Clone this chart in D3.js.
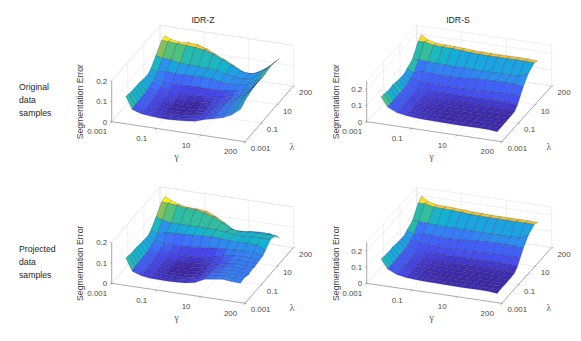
<!DOCTYPE html>
<meta charset="utf-8">
<head>
<style>
html, body { margin: 0; padding: 0; background: #fff; }
svg { display: block; font-family: "Liberation Sans", Arial, sans-serif; }
.tick-label { font-size: 7.9px; fill: #4a4a4a; }
.axis-title { font-size: 8.7px; fill: #404040; }
.panel-title { font-size: 8.7px; fill: #262626; text-anchor: middle; }
.row-label { font-size: 8.7px; fill: #262626; }
.greek { font-family: "Liberation Serif", serif; font-size: 9.5px; fill: #555; text-anchor: middle; }
.grid { stroke: #e4e4e4; stroke-width: 0.6; fill: none; }
.axis { stroke: #808080; stroke-width: 0.6; fill: none; }
.cell { stroke: #12123c; stroke-opacity: 0.42; stroke-width: 0.5; stroke-linejoin: round; }
</style>
<script src="https://d3js.org/d3.v7.min.js"></script>
<title>Segmentation Error</title>
</head>
<body>
<script>

// tick labels, equally spaced on both floor axes
var gammaTicks = ["0.001", "0.1", "10", "200"];
var lambdaTicks = ["0.001", "0.1", "10", "200"];
var zTicks = [0, 0.1, 0.2];

// grid nodes in tick steps (0 = first tick, 3 = last tick)
var gammaGrid = [0.21, 0.353, 0.556, 0.759, 0.962, 1.165, 1.368, 1.571, 1.774, 1.977, 2.18, 2.383, 2.586, 2.79];
var lambdaGrid = [0.30, 0.474, 0.648, 0.82, 0.993, 1.167, 1.341, 1.512, 1.686, 1.86, 2.172, 2.52, 2.73];

// one row per lambda, low to high; one column per gamma
var idrzOriginal = [
  [.104,.044,.030,.025,.022,.022,.024,.028,.033,.048,.058,.070,.090,.125],
  [.100,.050,.029,.024,.021,.020,.021,.024,.032,.048,.060,.074,.095,.135],
  [.097,.051,.030,.023,.018,.017,.018,.021,.030,.048,.062,.078,.100,.145],
  [.097,.051,.030,.022,.016,.015,.015,.020,.030,.048,.064,.080,.105,.150],
  [.096,.052,.033,.023,.017,.015,.015,.020,.030,.046,.064,.082,.108,.155],
  [.094,.052,.037,.026,.019,.016,.016,.021,.032,.046,.062,.080,.108,.160],
  [.091,.057,.044,.032,.024,.020,.020,.024,.034,.046,.060,.078,.106,.160],
  [.089,.065,.052,.040,.032,.030,.030,.032,.040,.050,.060,.076,.104,.160],
  [.089,.067,.056,.054,.055,.058,.060,.058,.058,.062,.068,.080,.105,.158],
  [.100,.084,.096,.090,.090,.092,.094,.092,.084,.078,.080,.092,.118,.160],
  [.136,.124,.123,.113,.112,.110,.108,.104,.094,.086,.082,.092,.122,.165],
  [.177,.175,.172,.170,.166,.161,.148,.128,.106,.084,.076,.088,.118,.160],
  [.180,.167,.160,.164,.160,.146,.124,.105,.083,.060,.058,.080,.112,.152]
];

var idrsOriginal = [
  [.127,.070,.045,.035,.030,.027,.026,.025,.024,.024,.024,.024,.024,.018],
  [.125,.070,.046,.032,.027,.025,.023,.022,.022,.022,.022,.022,.022,.020],
  [.120,.070,.044,.030,.026,.024,.022,.022,.022,.022,.022,.022,.022,.020],
  [.118,.070,.042,.030,.026,.024,.023,.022,.022,.022,.022,.022,.022,.020],
  [.123,.072,.042,.032,.028,.025,.024,.023,.023,.023,.023,.023,.023,.022],
  [.118,.072,.045,.034,.030,.028,.026,.025,.025,.025,.025,.025,.024,.022],
  [.114,.074,.050,.040,.036,.034,.032,.032,.032,.032,.032,.032,.030,.024],
  [.112,.074,.055,.050,.050,.050,.050,.050,.050,.050,.052,.052,.050,.045],
  [.112,.085,.080,.075,.072,.070,.070,.072,.074,.078,.080,.080,.080,.080],
  [.125,.100,.118,.115,.112,.110,.112,.118,.122,.125,.125,.125,.125,.115],
  [.145,.146,.143,.141,.139,.137,.137,.137,.135,.136,.136,.136,.137,.164],
  [.215,.217,.205,.203,.201,.198,.193,.192,.190,.190,.190,.190,.190,.188],
  [.232,.205,.192,.191,.189,.186,.182,.181,.180,.180,.180,.180,.180,.176]
];

var idrzProjected = [
  [.104,.044,.028,.022,.021,.021,.023,.026,.035,.057,.064,.070,.066,.064],
  [.100,.050,.028,.022,.020,.019,.020,.024,.034,.056,.064,.070,.068,.069],
  [.097,.051,.030,.021,.017,.016,.017,.021,.032,.054,.062,.068,.066,.066],
  [.097,.051,.030,.021,.015,.014,.015,.020,.032,.052,.060,.066,.064,.060],
  [.096,.052,.033,.022,.016,.014,.015,.020,.033,.050,.060,.066,.064,.067],
  [.094,.052,.037,.025,.018,.016,.017,.022,.035,.050,.060,.066,.064,.064],
  [.091,.057,.044,.032,.024,.021,.021,.026,.040,.052,.062,.068,.066,.068],
  [.089,.065,.052,.041,.033,.032,.032,.036,.050,.060,.068,.072,.070,.069],
  [.089,.067,.058,.056,.058,.062,.066,.072,.076,.078,.080,.082,.080,.072],
  [.100,.084,.097,.100,.102,.105,.107,.110,.108,.105,.103,.105,.103,.085],
  [.136,.125,.115,.116,.116,.116,.116,.115,.113,.105,.103,.107,.108,.110],
  [.177,.175,.172,.165,.164,.155,.141,.120,.093,.090,.093,.095,.093,.095],
  [.185,.169,.154,.148,.147,.142,.122,.097,.070,.070,.077,.080,.079,.064]
];

var idrsProjected = [
  [.123,.068,.043,.033,.028,.026,.025,.024,.023,.023,.023,.023,.023,.018],
  [.121,.068,.044,.031,.026,.024,.022,.021,.021,.021,.021,.021,.021,.020],
  [.118,.068,.042,.029,.025,.023,.021,.021,.021,.021,.021,.021,.021,.020],
  [.116,.068,.041,.029,.025,.023,.022,.021,.021,.021,.021,.021,.021,.020],
  [.120,.070,.041,.031,.027,.024,.023,.022,.022,.022,.022,.022,.022,.022],
  [.116,.070,.044,.033,.029,.027,.025,.024,.024,.024,.024,.024,.023,.022],
  [.113,.072,.049,.039,.035,.033,.031,.031,.031,.031,.031,.031,.029,.024],
  [.111,.073,.054,.049,.049,.049,.049,.049,.049,.049,.051,.051,.049,.045],
  [.111,.084,.079,.074,.071,.069,.069,.071,.073,.077,.079,.079,.079,.080],
  [.125,.100,.116,.113,.110,.108,.110,.116,.120,.123,.123,.123,.123,.115],
  [.145,.146,.142,.140,.138,.136,.136,.136,.134,.135,.135,.135,.136,.162],
  [.214,.216,.204,.202,.200,.197,.192,.191,.189,.189,.189,.189,.189,.188],
  [.233,.205,.192,.191,.189,.186,.182,.181,.179,.179,.179,.179,.179,.176]
];

var parula = ["#3e26a8","#4747eb","#3e6fff","#2796eb","#12b1d6","#27bcaa","#5cc46f","#a5be4e","#e0b93a","#fbcf2e","#f9fb14"];

// z value -> position on the colormap
var idrzColorZ = [.015, .025, .03, .04, .05, .06, .09, .10, .108, .12, .134, .15, .165, .175, .19];
var idrzColorT = [0, .07, .09, .11, .15, .22, .31, .38, .45, .55, .65, .75, .85, .97, 1];
var idrsColorZ = [.02, .03, .05, .08, .115, .125, .137, .141, .145, .15, .165, .19, .205, .215, .232];
var idrsColorT = [0, .05, .12, .17, .25, .28, .36, .42, .5, .62, .72, .85, .9, .93, 1];

var width = 581, height = 341;

var svg = d3.select("body").append("svg")
    .attr("width", width)
    .attr("height", height);

function drawPanel(p) {

  var g = svg.append("g");

  // floor axes and height run along fixed oblique directions
  var gx = d3.scaleLinear().domain([0, 3]).range([0, p.gammaDx]),
      gy = d3.scaleLinear().domain([0, 3]).range([0, 20]),
      lx = d3.scaleLinear().domain([0, 3]).range([0, p.lambdaDx]),
      ly = d3.scaleLinear().domain([0, 3]).range([0, -55.7]),
      zy = d3.scaleLinear().domain([0, p.zMax]).range([0, -40.7]);

  function project(a, b, c) {
    return [p.x + gx(a) + lx(b), p.y + gy(a) + ly(b) + zy(c)];
  }

  function segment(cls, from, to) {
    g.append("path").attr("class", cls).attr("d", d3.line()([project.apply(null, from), project.apply(null, to)]));
  }

  // back walls and floor grid
  [0, 1, 2, 3].forEach(function(t) {
    segment("grid", [t, 0, 0], [t, 3, 0]);
    segment("grid", [0, t, 0], [3, t, 0]);
    segment("grid", [0, t, 0], [0, t, p.zMax]);
    segment("grid", [t, 3, 0], [t, 3, p.zMax]);
  });
  zTicks.concat([p.zMax]).forEach(function(z) {
    segment("grid", [0, 0, z], [0, 3, z]);
    segment("grid", [0, 3, z], [3, 3, z]);
  });

  // colour of a cell comes from its low-index corner, like a faceted surf
  var colormap = d3.piecewise(d3.interpolateRgb, parula);
  var toT = d3.scaleLinear().domain(p.colorZ).range(p.colorT).clamp(true);

  function cellColor(i, j) {
    var v = p.z[j][i];
    // the side strip reads brighter than its height suggests
    if (i === 0 && j < 10) v += p.stripBoost;
    return colormap(toT(v));
  }

  // painter's order: far rows first
  for (var j = lambdaGrid.length - 2; j >= 0; j--) {
    for (var i = 0; i < gammaGrid.length - 1; i++) {
      var corners = [
        project(gammaGrid[i], lambdaGrid[j], p.z[j][i]),
        project(gammaGrid[i + 1], lambdaGrid[j], p.z[j][i + 1]),
        project(gammaGrid[i + 1], lambdaGrid[j + 1], p.z[j + 1][i + 1]),
        project(gammaGrid[i], lambdaGrid[j + 1], p.z[j + 1][i])
      ];
      g.append("path")
          .attr("class", "cell")
          .attr("d", d3.line()(corners) + "Z")
          .attr("fill", cellColor(i, j));
    }
  }

  // front axes
  segment("axis", [0, 0, 0], [3, 0, 0]);
  segment("axis", [3, 0, 0], [3, 3, 0]);
  segment("axis", [0, 0, 0], [0, 0, p.zMax]);

  gammaTicks.forEach(function(label, t) {
    var q = project(t, 0, 0);
    g.append("path").attr("class", "axis").attr("d", d3.line()([q, [q[0] - 0.9, q[1] + 1.6]]));
    g.append("text").attr("class", "tick-label")
        .attr("x", q[0] - 14.5).attr("y", q[1] + 12.7)
        .attr("text-anchor", "middle").text(label);
  });

  lambdaTicks.forEach(function(label, t) {
    var q = project(3, t, 0);
    g.append("path").attr("class", "axis").attr("d", d3.line()([q, [q[0] + 1.4, q[1] + 0.3]]));
    g.append("text").attr("class", "tick-label")
        .attr("x", q[0] + 5.7).attr("y", q[1] + 9)
        .text(label);
  });

  zTicks.forEach(function(z) {
    var q = project(0, 0, z);
    g.append("path").attr("class", "axis").attr("d", d3.line()([q, [q[0] - 1.5, q[1]]]));
    g.append("text").attr("class", "tick-label")
        .attr("x", q[0] - 4.5).attr("y", q[1] + 2.8)
        .attr("text-anchor", "end").text(z);
  });

  g.append("text").attr("class", "axis-title")
      .attr("text-anchor", "middle")
      .attr("transform", "translate(" + p.zTitleX + "," + (p.y - 20) + ") rotate(-90)")
      .text("Segmentation Error");

  var lambdaAt = project(3, 0, 0);
  g.append("text").attr("class", "greek").attr("x", p.x + 65).attr("y", p.y + 38).text("\u03b3");
  g.append("text").attr("class", "greek").attr("x", lambdaAt[0] + 47).attr("y", lambdaAt[1] + 8).text("\u03bb");

  if (p.title) g.append("text").attr("class", "panel-title").attr("x", p.titleX).attr("y", p.titleY).text(p.title);
}

drawPanel({title: "IDR-Z", z: idrzOriginal, zMax: 0.2, colorZ: idrzColorZ, colorT: idrzColorT, stripBoost: 0.008, x: 111.7, y: 121.7, gammaDx: 133.3, lambdaDx: 48.3, zTitleX: 83, titleX: 203, titleY: 23});
drawPanel({title: "IDR-S", z: idrsOriginal, zMax: 0.25, colorZ: idrsColorZ, colorT: idrsColorT, stripBoost: 0.02, x: 366.7, y: 121.7, gammaDx: 135, lambdaDx: 50, zTitleX: 338.5, titleX: 458, titleY: 23});
drawPanel({z: idrzProjected, zMax: 0.2, colorZ: idrzColorZ, colorT: idrzColorT, stripBoost: 0.008, x: 111.7, y: 283.3, gammaDx: 133.3, lambdaDx: 48.3, zTitleX: 83});
drawPanel({z: idrsProjected, zMax: 0.25, colorZ: idrsColorZ, colorT: idrsColorT, stripBoost: 0.02, x: 366.7, y: 283.3, gammaDx: 135, lambdaDx: 50, zTitleX: 338.5});

var rowLabels = [["Original", 90], ["data", 103], ["samples", 116], ["Projected", 252], ["data", 265], ["samples", 278]];
svg.selectAll(".row-label").data(rowLabels).enter().append("text")
    .attr("class", "row-label")
    .attr("x", 19)
    .attr("y", function(d) { return d[1]; })
    .text(function(d) { return d[0]; });

</script>
</body>
</html>
